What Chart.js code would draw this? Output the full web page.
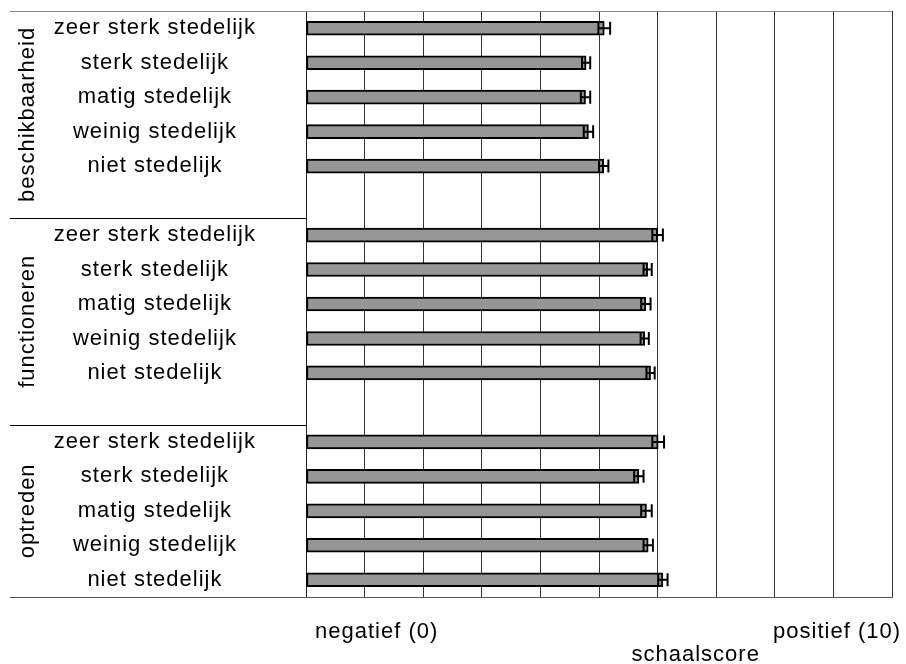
<!DOCTYPE html>
<html>
<head>
<meta charset="utf-8">
<script src="https://cdn.jsdelivr.net/npm/chart.js@4"></script>
<style>
  html, body { margin: 0; padding: 0; background: #fff; }
  #wrap { width: 906px; height: 664px; position: relative; }
</style>
</head>
<body>
<div id="wrap"><canvas id="chart-bars"></canvas></div>
<script>
// groups and levels (multi-level category axis)
const groups = ['beschikbaarheid', 'functioneren', 'optreden'];
const levels = ['zeer sterk stedelijk', 'sterk stedelijk', 'matig stedelijk', 'weinig stedelijk', 'niet stedelijk'];

// mean scale scores per group
const beschikbaarheid = [5.09, 4.78, 4.77, 4.82, 5.08];
const functioneren = [6.00, 5.83, 5.80, 5.78, 5.88];
const optreden = [6.01, 5.68, 5.81, 5.84, 6.09];

// error bar half widths
const errBeschikbaarheid = [0.10, 0.07, 0.08, 0.08, 0.08];
const errFunctioneren = [0.09, 0.07, 0.08, 0.07, 0.07];
const errOptreden = [0.10, 0.08, 0.09, 0.08, 0.08];

const xTickLabels = ['negatief (0)', 'positief (10)'];
const xTitle = 'schaalscore';

const fontFamily = "'Liberation Sans', Arial, sans-serif";

// build flat slots, empty slot between groups
var groupValues = [beschikbaarheid, functioneren, optreden];
var groupErrors = [errBeschikbaarheid, errFunctioneren, errOptreden];
var labels = [], values = [], errors = [], groupStart = [];
for (let g = 0; g < groups.length; g++) {
  groupStart.push(labels.length);
  for (let k = 0; k < levels.length; k++) {
    labels.push(levels[k]);
    values.push(groupValues[g][k]);
    errors.push(groupErrors[g][k]);
  }
  if (g < groups.length - 1) {
    labels.push('');
    values.push(null);
    errors.push(null);
  }
}

var spacing = {
  id: 'spacing',
  beforeUpdate(chart) { chart.ctx.letterSpacing = '1px'; },
  beforeDraw(chart) { chart.ctx.letterSpacing = '1px'; }
};

var extras = {
  id: 'extras',
  afterDatasetsDraw(chart) {
    var ctx = chart.ctx, xs = chart.scales.x, ys = chart.scales.y;
    ctx.save();
    ctx.strokeStyle = '#000';
    ctx.lineWidth = 2;
    for (let i = 0; i < values.length; i++) {
      if (values[i] == null) continue;
      var y = ys.getPixelForValue(i);
      var x1 = xs.getPixelForValue(values[i] - errors[i]);
      var x2 = xs.getPixelForValue(values[i] + errors[i]);
      ctx.beginPath();
      ctx.moveTo(x1, y); ctx.lineTo(x2, y);
      ctx.moveTo(x1, y - 6.5); ctx.lineTo(x1, y + 6.5);
      ctx.moveTo(x2, y - 6.5); ctx.lineTo(x2, y + 6.5);
      ctx.stroke();
    }
    ctx.restore();
  },
  afterDraw(chart) {
    var ctx = chart.ctx, xs = chart.scales.x, ys = chart.scales.y, area = chart.chartArea;
    ctx.save();
    ctx.letterSpacing = '1px';
    // frame top / bottom
    ctx.lineWidth = 1;
    ctx.strokeStyle = '#888';
    ctx.beginPath();
    ctx.moveTo(10, Math.round(area.top) + 0.5); ctx.lineTo(area.right, Math.round(area.top) + 0.5);
    ctx.stroke();
    ctx.strokeStyle = '#555';
    ctx.beginPath();
    ctx.moveTo(10, Math.round(area.bottom) + 0.5); ctx.lineTo(area.right, Math.round(area.bottom) + 0.5);
    ctx.stroke();
    // group separators + rotated group labels
    ctx.strokeStyle = '#000';
    ctx.fillStyle = '#000';
    ctx.font = '22px ' + fontFamily;
    ctx.textAlign = 'center';
    ctx.textBaseline = 'middle';
    for (let g = 0; g < groups.length; g++) {
      var top = g === 0 ? area.top : ys.getPixelForValue(groupStart[g] - 0.5);
      var bottom = g === groups.length - 1 ? area.bottom : ys.getPixelForValue(groupStart[g + 1] - 0.5);
      if (g > 0) {
        ctx.beginPath();
        ctx.moveTo(10, Math.round(top) + 0.5); ctx.lineTo(area.left, Math.round(top) + 0.5);
        ctx.stroke();
      }
      ctx.save();
      ctx.translate(28, (top + bottom) / 2);
      ctx.rotate(-Math.PI / 2);
      ctx.fillText(groups[g], 0, 0);
      ctx.restore();
    }
    // axis title
    ctx.fillText(xTitle, xs.getPixelForValue(6.65), 655);
    ctx.restore();
  }
};

new Chart(document.getElementById('chart-bars'), {
  type: 'bar',
  data: {
    labels: labels,
    datasets: [{
      data: values,
      backgroundColor: '#969696',
      borderColor: '#000',
      borderWidth: 2,
      borderSkipped: false,
      barThickness: 14
    }]
  },
  options: {
    indexAxis: 'y',
    responsive: true,
    maintainAspectRatio: false,
    animation: false,
    layout: { padding: { top: 11, right: 14, left: 0, bottom: 0 } },
    plugins: {
      legend: { display: false },
      tooltip: { enabled: false }
    },
    scales: {
      x: {
        min: 0,
        max: 10,
        afterFit: (s) => { s.height = 67; s.paddingLeft = 0; s.paddingRight = 0; },
        grid: { color: '#333', lineWidth: 1, drawTicks: false },
        border: { display: true, color: '#555' },
        ticks: {
          stepSize: 1,
          autoSkip: false,
          maxRotation: 0,
          align: 'inner',
          labelOffset: 9,
          padding: 22,
          color: '#000',
          font: { family: fontFamily, size: 22 },
          callback: (v) => v === 0 ? xTickLabels[0] : (v === 10 ? xTickLabels[1] : '')
        }
      },
      y: {
        afterFit: (s) => { s.width = 306; s.paddingTop = 0; s.paddingBottom = 0; },
        grid: { display: false, drawTicks: false },
        border: { display: true, color: '#222', width: 1 },
        ticks: {
          autoSkip: false,
          crossAlign: 'center',
          padding: 50,
          color: '#000',
          font: { family: fontFamily, size: 22 }
        }
      }
    }
  },
  plugins: [spacing, extras]
});
</script>
</body>
</html>
